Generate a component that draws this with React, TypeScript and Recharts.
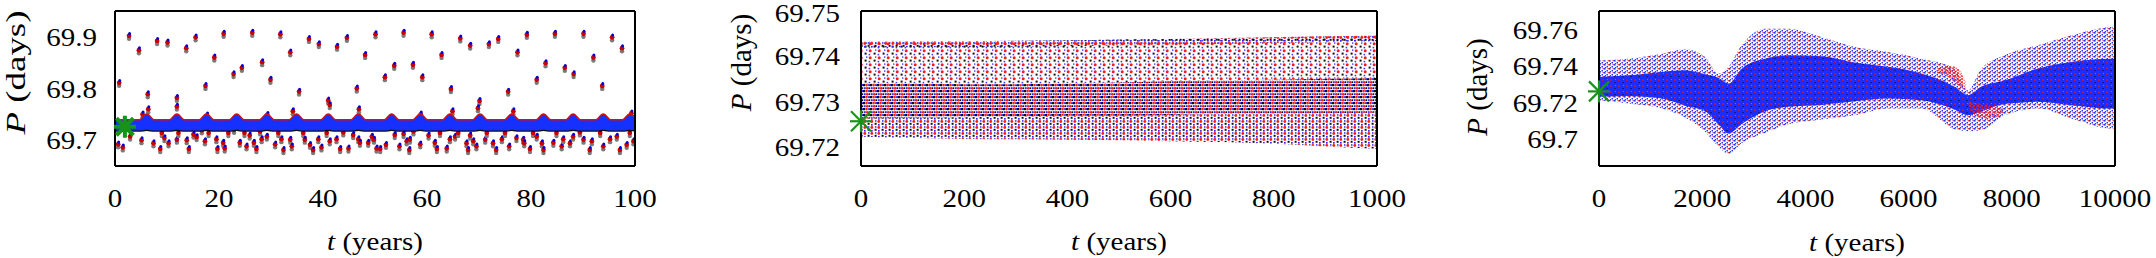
import React from 'react';
import { ComposedChart, XAxis, YAxis, Area, Scatter } from 'recharts';

const SERIF = '"Liberation Serif", "Times New Roman", serif';

// ---------- ticks ----------
const p1XTicks = [0, 20, 40, 60, 80, 100];
const p1YTicks = [69.7, 69.8, 69.9];
const p2XTicks = [0, 200, 400, 600, 800, 1000];
const p2YTicks = [69.72, 69.73, 69.74, 69.75];
const p3XTicks = [0, 2000, 4000, 6000, 8000, 10000];
const p3YTicks = [69.7, 69.72, 69.74, 69.76];

// ---------- panel 1 (0-100 yr) ----------
const p1BandT = [0, 4.7, 6.1, 7.5, 10.5, 11.9, 13.3, 16.2, 17.6, 19.0, 22.0, 23.4, 24.8, 27.8, 29.2, 30.6, 33.5, 34.9, 36.3, 39.6, 41.0, 42.4, 45.4, 46.8, 48.2, 51.8, 53.2, 54.6, 57.3, 58.7, 60.1, 63.0, 64.4, 65.8, 68.8, 70.2, 71.6, 74.9, 76.3, 77.7, 81.0, 82.4, 83.8, 86.7, 88.1, 89.5, 92.5, 93.9, 95.3, 97.6, 99.0, 100];
const p1BandHi = [69.738, 69.738, 69.749, 69.738, 69.738, 69.749, 69.738, 69.738, 69.749, 69.738, 69.738, 69.749, 69.738, 69.738, 69.749, 69.738, 69.738, 69.749, 69.738, 69.738, 69.749, 69.738, 69.738, 69.749, 69.738, 69.738, 69.749, 69.738, 69.738, 69.749, 69.738, 69.738, 69.749, 69.738, 69.738, 69.749, 69.738, 69.738, 69.749, 69.738, 69.738, 69.749, 69.738, 69.738, 69.749, 69.738, 69.738, 69.749, 69.738, 69.738, 69.749, 69.743];
const p1BandLo = [69.7185, 69.7185, 69.72, 69.7185, 69.7185, 69.72, 69.7185, 69.7185, 69.72, 69.7185, 69.7185, 69.72, 69.7185, 69.7185, 69.72, 69.7185, 69.7185, 69.72, 69.7185, 69.7185, 69.72, 69.7185, 69.7185, 69.72, 69.7185, 69.7185, 69.72, 69.7185, 69.7185, 69.72, 69.7185, 69.7185, 69.72, 69.7185, 69.7185, 69.72, 69.7185, 69.7185, 69.72, 69.7185, 69.7185, 69.72, 69.7185, 69.7185, 69.72, 69.7185, 69.7185, 69.72, 69.7185, 69.7185, 69.72, 69.719];
const p1UpperPts = [[0.8, 69.811], [2.7, 69.902], [4.6, 69.874], [6.3, 69.789], [8.1, 69.892], [10.1, 69.889], [11.9, 69.782], [13.7, 69.878], [15.5, 69.899], [17.4, 69.805], [19.1, 69.86], [20.9, 69.906], [22.8, 69.828], [24.4, 69.84], [26.4, 69.908], [28.3, 69.851], [29.9, 69.817], [31.8, 69.905], [33.7, 69.87], [35.4, 69.794], [37.3, 69.896], [39.2, 69.886], [41.0, 69.777], [42.7, 69.881], [44.6, 69.898], [46.5, 69.8], [48.1, 69.865], [50.1, 69.905], [51.9, 69.822], [53.7, 69.844], [55.5, 69.908], [57.3, 69.846], [59.1, 69.822], [60.9, 69.905], [62.8, 69.865], [64.6, 69.799], [66.4, 69.897], [68.3, 69.883], [70.1, 69.776], [71.9, 69.886], [73.7, 69.896], [75.6, 69.794], [77.4, 69.87], [79.2, 69.904], [81.1, 69.817], [82.8, 69.849], [84.6, 69.906], [86.5, 69.84], [88.2, 69.828], [90.1, 69.906], [92.0, 69.86], [93.7, 69.805], [95.6, 69.899], [97.5, 69.878]];
const p1MidPts = [[5.3, 69.75], [6.4, 69.76], [11.9, 69.765], [17.7, 69.748], [29.3, 69.749], [34.2, 69.756], [41.3, 69.768], [46.8, 69.747], [46.9, 69.76], [58.8, 69.75], [64.9, 69.756], [69.8, 69.762], [76.6, 69.756], [99.3, 69.752]];
const p1LowerPts = [[0.6, 69.692], [1.5, 69.686], [2.9, 69.707], [5.1, 69.7], [7.4, 69.694], [8.7, 69.683], [9.0, 69.714], [9.5, 69.704], [10.3, 69.694], [11.9, 69.701], [12.2, 69.714], [13.8, 69.7], [14.2, 69.683], [15.1, 69.711], [15.7, 69.706], [16.7, 69.719], [17.3, 69.698], [18.0, 69.714], [19.5, 69.702], [19.7, 69.683], [20.8, 69.695], [21.1, 69.684], [21.8, 69.714], [22.9, 69.72], [24.0, 69.695], [24.9, 69.714], [25.3, 69.688], [25.9, 69.709], [26.7, 69.695], [27.2, 69.683], [27.9, 69.717], [28.2, 69.702], [29.2, 69.707], [30.8, 69.692], [31.4, 69.714], [32.0, 69.702], [32.4, 69.681], [33.7, 69.701], [34.0, 69.688], [36.2, 69.714], [36.5, 69.701], [37.5, 69.691], [38.1, 69.681], [39.1, 69.702], [39.7, 69.686], [40.7, 69.714], [41.3, 69.698], [42.6, 69.702], [43.3, 69.683], [43.9, 69.715], [44.9, 69.684], [45.8, 69.71], [46.8, 69.702], [47.1, 69.695], [48.7, 69.695], [49.4, 69.707], [49.8, 69.701], [50.3, 69.684], [51.0, 69.683], [52.1, 69.691], [53.8, 69.71], [54.7, 69.688], [55.5, 69.712], [56.1, 69.698], [56.7, 69.701], [56.6, 69.681], [57.4, 69.717], [58.7, 69.692], [60.3, 69.709], [61.5, 69.695], [61.9, 69.683], [62.5, 69.714], [63.8, 69.684], [64.4, 69.702], [65.4, 69.707], [66.0, 69.714], [67.6, 69.694], [67.9, 69.681], [68.3, 69.709], [68.9, 69.698], [69.5, 69.688], [71.2, 69.701], [71.5, 69.714], [72.7, 69.694], [73.3, 69.681], [74.4, 69.702], [75.0, 69.714], [75.8, 69.688], [77.2, 69.704], [78.5, 69.701], [78.7, 69.694], [79.8, 69.683], [80.4, 69.714], [81.1, 69.707], [82.1, 69.694], [82.4, 69.681], [84.3, 69.695], [84.9, 69.714], [85.9, 69.688], [86.2, 69.702], [87.5, 69.694], [88.1, 69.707], [89.4, 69.715], [90.1, 69.701], [91.3, 69.681], [91.7, 69.698], [93.3, 69.714], [93.9, 69.688], [95.2, 69.702], [96.5, 69.707], [97.1, 69.681], [98.4, 69.691], [99.0, 69.714], [99.7, 69.698]];
const p1Star = [1.9, 69.726];

// ---------- panel 2 (0-1000 yr) ----------
const p2T = [0, 100, 200, 300, 400, 500, 600, 700, 800, 900, 1000];
const p2UpperTop = [69.7432, 69.7433, 69.7433, 69.7434, 69.7435, 69.7437, 69.7438, 69.744, 69.7442, 69.7444, 69.7446];
const p2CrestBot = [69.7418, 69.742, 69.742, 69.7421, 69.7422, 69.7424, 69.7425, 69.7427, 69.7429, 69.7431, 69.7433];
const p2DenseTop = [69.734, 69.734, 69.7338, 69.7338, 69.734, 69.7342, 69.7345, 69.7347, 69.7348, 69.735, 69.7352];
const p2DenseBot = [69.7262, 69.7264, 69.7265, 69.7266, 69.7268, 69.7268, 69.727, 69.7272, 69.7272, 69.7274, 69.7275];
const p2LowerBot = [69.7222, 69.7219, 69.7217, 69.7216, 69.7215, 69.7214, 69.7212, 69.721, 69.7206, 69.72, 69.7195];
const p2Star = [0, 69.7256];

// ---------- panel 3 (0-10000 yr) ----------
const p3T = [0, 573, 1218, 1669, 2056, 2313, 2507, 2766, 3216, 3667, 4313, 4957, 5601, 6246, 6891, 7148, 7407, 7858, 8502, 9147, 9921, 10000];
const p3OuterHi = [69.7432, 69.7441, 69.7469, 69.7493, 69.7451, 69.7359, 69.7396, 69.7515, 69.7607, 69.7607, 69.7561, 69.7506, 69.7478, 69.7441, 69.7386, 69.7266, 69.7386, 69.746, 69.7515, 69.757, 69.7617, 69.7618];
const p3OuterLo = [69.7211, 69.7193, 69.7165, 69.7115, 69.7036, 69.6955, 69.6915, 69.6975, 69.703, 69.7078, 69.7105, 69.7128, 69.7165, 69.7165, 69.705, 69.704, 69.7045, 69.7128, 69.7165, 69.711, 69.7055, 69.7055];
const p3InnerHi = [69.734, 69.7349, 69.7368, 69.7377, 69.7355, 69.7335, 69.7303, 69.7386, 69.744, 69.746, 69.7455, 69.742, 69.7396, 69.7359, 69.7285, 69.7239, 69.7285, 69.732, 69.7386, 69.7423, 69.7441, 69.7441];
const p3InnerLo = [69.723, 69.7235, 69.722, 69.718, 69.715, 69.708, 69.7027, 69.708, 69.715, 69.7175, 69.7185, 69.7205, 69.722, 69.7211, 69.716, 69.7128, 69.715, 69.719, 69.7202, 69.7183, 69.7165, 69.7165];
const p3RedLowT = [7150, 7300, 7500, 7700, 7850];
const p3RedLowHi = [69.7205, 69.7195, 69.7185, 69.7175, 69.716];
const p3RedLowLo = [69.7195, 69.7125, 69.711, 69.7115, 69.715];
const p3RedUpT = [6550, 6750, 6950, 7100];
const p3RedUpHi = [69.7375, 69.7405, 69.739, 69.7315];
const p3RedUpLo = [69.736, 69.7345, 69.7295, 69.7268];
const p3Star = [0, 69.726];

// ---------- build data ----------
const p1Band = p1BandT.map((t, i) => ({ t, hi: p1BandHi[i], lo: p1BandLo[i] }));
const p1Points = [...p1UpperPts, ...p1MidPts, ...p1LowerPts].map(([t, P]) => ({ t, P }));
const p2Upper = p2T.map((t, i) => ({ t, lo: p2DenseTop[i], hi: p2UpperTop[i] }));
const p2Crest = p2T.map((t, i) => ({ t, lo: p2CrestBot[i], hi: p2UpperTop[i] }));
const p2Dense = p2T.map((t, i) => ({ t, lo: p2DenseBot[i], hi: p2DenseTop[i] }));
const p2Lower = p2T.map((t, i) => ({ t, lo: p2LowerBot[i], hi: p2DenseBot[i] }));
const p3Outer = p3T.map((t, i) => ({ t, lo: p3OuterLo[i], hi: p3OuterHi[i] }));
const p3Inner = p3T.map((t, i) => ({ t, lo: p3InnerLo[i], hi: p3InnerHi[i] }));
const p3RedLow = p3RedLowT.map((t, i) => ({ t, lo: p3RedLowLo[i], hi: p3RedLowHi[i] }));
const p3RedUp = p3RedUpT.map((t, i) => ({ t, lo: p3RedUpLo[i], hi: p3RedUpHi[i] }));
const rangeKey = (d: any) => [d.lo, d.hi];

// ---------- shapes ----------
const TripletDot = (props: any) => {
  const { cx, cy } = props;
  if (cx == null || cy == null) return <g />;
  return (
    <g>
      <circle cx={cx} cy={cy + 3} r={2.2} fill="#7a7a7a" />
      <circle cx={cx} cy={cy} r={2.4} fill="#c80000" />
      <circle cx={cx + 0.5} cy={cy - 2.4} r={1.5} fill="#0000d8" />
    </g>
  );
};

const makeStar = (arm: number, diag: number, w: number) => (props: any) => {
  const { cx, cy } = props;
  if (cx == null || cy == null) return <g />;
  return (
    <g stroke="#17921a" strokeWidth={w} strokeLinecap="butt">
      <line x1={cx - arm} y1={cy} x2={cx + arm} y2={cy} />
      <line x1={cx} y1={cy - arm} x2={cx} y2={cy + arm} />
      <line x1={cx - diag} y1={cy - diag} x2={cx + diag} y2={cy + diag} />
      <line x1={cx - diag} y1={cy + diag} x2={cx + diag} y2={cy - diag} />
    </g>
  );
};
const Star1 = makeStar(11, 8.5, 4);
const Star2 = makeStar(11, 10, 2.2);

// ---------- ticks ----------
const XTick = (props: any) => {
  const { x, y, payload } = props;
  return (
    <g transform={`translate(${x},${y + 40.5}) scale(1,0.85)`}>
      <text x={0} y={0} textAnchor="middle" fontFamily={SERIF} fontSize={29} fill="#000">
        {String(payload.value)}
      </text>
    </g>
  );
};
const makeYTick = (gap: number) => (props: any) => {
  const { x, y, payload } = props;
  const by = Math.max(y + 9.3, 22);
  return (
    <g transform={`translate(${x - gap},${by}) scale(1,0.85)`}>
      <text x={0} y={0} textAnchor="end" fontFamily={SERIF} fontSize={29} fill="#000">
        {String(payload.value)}
      </text>
    </g>
  );
};

const AXIS = { stroke: '#000', strokeWidth: 2 };
const TICKLINE = { stroke: '#333', strokeWidth: 1.4 };

function Panel(props: any) {
  const { plotLeft, plotW, xDomain, yDomain, xTicks, yTicks, yGap, children } = props;
  const W = 110 + plotW + 60;
  return (
    <div style={{ position: 'absolute', left: plotLeft - 110, top: 0 }}>
      <ComposedChart width={W} height={258} margin={{ top: 11, right: 60, bottom: 0, left: 0 }} style={{ overflow: 'visible' }}>
        <XAxis xAxisId="main" type="number" dataKey="t" domain={xDomain} ticks={xTicks} interval={0}
          height={92} tickLine={false} tickSize={0} tickMargin={0} axisLine={AXIS} tick={XTick} />
        <XAxis xAxisId="top" orientation="top" mirror type="number" dataKey="t" domain={xDomain} ticks={xTicks} allowDataOverflow interval={0}
          height={1} tick={false} tickSize={6} tickLine={TICKLINE} axisLine={AXIS} />
        <XAxis xAxisId="bm" orientation="bottom" mirror type="number" dataKey="t" domain={xDomain} ticks={xTicks} allowDataOverflow interval={0}
          height={1} tick={false} tickSize={6} tickLine={TICKLINE} axisLine={false} />
        <YAxis yAxisId="main" type="number" dataKey="P" domain={yDomain} ticks={yTicks} interval={0}
          width={110} tickLine={false} tickSize={0} tickMargin={0} axisLine={AXIS} tick={makeYTick(yGap)} />
        <YAxis yAxisId="rm" orientation="right" mirror type="number" dataKey="P" domain={yDomain} ticks={yTicks} allowDataOverflow interval={0}
          width={1} tick={false} tickSize={6} tickLine={TICKLINE} axisLine={AXIS} />
        <YAxis yAxisId="lm" orientation="left" mirror type="number" dataKey="P" domain={yDomain} ticks={yTicks} allowDataOverflow interval={0}
          width={1} tick={false} tickSize={6} tickLine={TICKLINE} axisLine={false} />
        {children}
      </ComposedChart>
    </div>
  );
}

const common = { xAxisId: 'main', yAxisId: 'main', isAnimationActive: false } as any;
const areaCommon = { ...common, type: 'monotone', stroke: 'none', fillOpacity: 1, dot: false, activeDot: false } as any;

export default function App() {
  return (
    <div style={{ position: 'absolute', left: 0, top: 0, width: 2156, height: 258, background: '#fff', overflow: 'hidden' }}>
      <svg width={0} height={0} style={{ position: 'absolute' }}>
        <defs>
          <pattern id="p2dense" width="7" height="6" patternUnits="userSpaceOnUse">
            <rect x="0" y="0" width="2.2" height="2.2" fill="#111" />
            <circle cx="3.6" cy="1.1" r="1.3" fill="#ff1a1a" />
            <rect x="5.1" y="0.1" width="1.9" height="2" fill="#2b2bff" />
            <rect x="0.7" y="3.2" width="2" height="2" fill="#2b2bff" />
            <circle cx="4.2" cy="4.2" r="1.3" fill="#ff1a1a" />
            <rect x="5.6" y="3.3" width="1.4" height="1.8" fill="#111" />
          </pattern>
          <pattern id="p2sparse" width="9" height="7" patternUnits="userSpaceOnUse">
            <circle cx="2.2" cy="1.8" r="1.5" fill="#ff1a1a" />
            <rect x="5.6" y="3.6" width="2" height="2" fill="#111" />
            <rect x="0.6" y="4.8" width="1.6" height="1.6" fill="#3a3aff" />
            <rect x="7" y="0.4" width="1.4" height="1.4" fill="#3a3aff" />
          </pattern>
          <pattern id="p2mid" width="7" height="6" patternUnits="userSpaceOnUse">
            <circle cx="1.8" cy="1.5" r="1.4" fill="#ff1a1a" />
            <rect x="4.6" y="2.8" width="2" height="2" fill="#111" />
            <rect x="1" y="4" width="1.7" height="1.7" fill="#2b2bff" />
            <rect x="5" y="0.2" width="1.5" height="1.5" fill="#2b2bff" />
          </pattern>
          <pattern id="p3dense" width="8" height="6" patternUnits="userSpaceOnUse">
            <rect x="0" y="0" width="8" height="6" fill="#1f2cff" />
            <circle cx="2" cy="2" r="0.9" fill="#e01010" />
            <rect x="5.5" y="4" width="1.1" height="1.1" fill="#111" />
            <rect x="6" y="1" width="0.8" height="0.8" fill="#8a90ff" />
          </pattern>
          <pattern id="p3sparse" width="5" height="4" patternUnits="userSpaceOnUse">
            <rect x="0" y="0" width="1.6" height="1.6" fill="#2233ff" />
            <rect x="2.5" y="2" width="1.5" height="1.5" fill="#2233ff" />
            <circle cx="4.2" cy="0.8" r="0.75" fill="#e01010" />
            <rect x="0.8" y="3" width="1" height="1" fill="#222" />
          </pattern>
          <pattern id="p3red" width="4" height="3" patternUnits="userSpaceOnUse">
            <circle cx="1" cy="1" r="1" fill="#ff1a1a" />
            <rect x="2.6" y="1.6" width="1.2" height="1.2" fill="#ff1a1a" />
          </pattern>
        </defs>
      </svg>

      <Panel plotLeft={115} plotW={520} xDomain={[0, 100]} yDomain={[69.65, 69.95]} xTicks={p1XTicks} yTicks={p1YTicks} yGap={18}>
        <Scatter {...common} data={p1Points} dataKey="P" shape={TripletDot} zIndex={50} />
        <Area {...common} data={p1Band} dataKey="hi" type="monotone" stroke="#d41010" strokeWidth={3} fill="none" dot={false} activeDot={false} />
        <Area {...common} data={p1Band} dataKey="lo" type="monotone" stroke="#111" strokeWidth={2.5} fill="none" dot={false} activeDot={false} />
        <Area {...areaCommon} data={p1Band} dataKey={rangeKey} fill="#1630ff" />
        <Scatter {...common} data={[{ t: p1Star[0], P: p1Star[1] }]} dataKey="P" shape={Star1} />
      </Panel>

      <Panel plotLeft={861} plotW={516} xDomain={[0, 1000]} yDomain={[69.7157, 69.75]} xTicks={p2XTicks} yTicks={p2YTicks} yGap={21}>
        <Area {...areaCommon} data={p2Upper} dataKey={rangeKey} fill="url(#p2sparse)" />
        <Area {...areaCommon} data={p2Crest} dataKey={rangeKey} fill="url(#p2mid)" />
        <Area {...areaCommon} data={p2Lower} dataKey={rangeKey} fill="url(#p2mid)" />
        <Area {...areaCommon} data={p2Dense} dataKey={rangeKey} fill="url(#p2dense)" />
        <Scatter {...common} data={[{ t: p2Star[0], P: p2Star[1] }]} dataKey="P" shape={Star2} />
      </Panel>

      <Panel plotLeft={1599} plotW={516} xDomain={[0, 10000]} yDomain={[69.6847, 69.7705]} xTicks={p3XTicks} yTicks={p3YTicks} yGap={21}>
        <Area {...areaCommon} data={p3Outer} dataKey={rangeKey} fill="url(#p3sparse)" />
        <Area {...areaCommon} data={p3RedUp} dataKey={rangeKey} fill="url(#p3red)" />
        <Area {...areaCommon} data={p3Inner} dataKey={rangeKey} fill="url(#p3dense)" />
        <Area {...areaCommon} data={p3RedLow} dataKey={rangeKey} fill="url(#p3red)" />
        <Scatter {...common} data={[{ t: p3Star[0], P: p3Star[1] }]} dataKey="P" shape={Star2} />
      </Panel>

      <svg width={2156} height={258} style={{ position: 'absolute', left: 0, top: 0, pointerEvents: 'none' }}>
        <g fontFamily={SERIF} fill="#000">
          <text x={25} y={72.5} fontSize={28} textAnchor="middle" textLength={124} lengthAdjust="spacingAndGlyphs" transform="rotate(-90,25,72.5)">
            <tspan fontStyle="italic">P</tspan> (days)
          </text>
          <text x={751} y={62.5} fontSize={29} textAnchor="middle" transform="rotate(-90,751,62.5)">
            <tspan fontStyle="italic">P</tspan> (days)
          </text>
          <text x={1487} y={87} fontSize={29} textAnchor="middle" transform="rotate(-90,1487,87)">
            <tspan fontStyle="italic">P</tspan> (days)
          </text>
          <g transform="translate(375,250) scale(1,0.85)">
            <text x={0} y={0} fontSize={29} textAnchor="middle"><tspan fontStyle="italic">t</tspan> (years)</text>
          </g>
          <g transform="translate(1119,250) scale(1,0.85)">
            <text x={0} y={0} fontSize={29} textAnchor="middle"><tspan fontStyle="italic">t</tspan> (years)</text>
          </g>
          <g transform="translate(1857,251) scale(1,0.85)">
            <text x={0} y={0} fontSize={29} textAnchor="middle"><tspan fontStyle="italic">t</tspan> (years)</text>
          </g>
        </g>
      </svg>
    </div>
  );
}
